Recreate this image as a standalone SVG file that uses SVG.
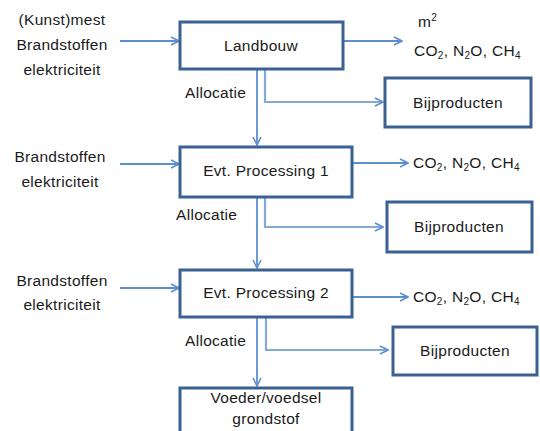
<svg xmlns="http://www.w3.org/2000/svg" width="540" height="431" viewBox="0 0 540 431">
<defs>
<marker id="ah" viewBox="0 0 10 10" refX="9" refY="5" markerWidth="10" markerHeight="10" markerUnits="userSpaceOnUse" orient="auto">
<path d="M1,1 L9,5 L1,9" fill="none" stroke="#5b8fd0" stroke-width="1.6"/>
</marker>
<style>
.box{fill:#fff;stroke:#3b6193;stroke-width:3}
.t{font-family:"Liberation Sans",Arial,sans-serif;font-size:15.5px;letter-spacing:0.3px;fill:#1a1a1a}
.c{text-anchor:middle}
.ln{fill:none;stroke:#5b8fd0;stroke-width:1.8}
.ln2{fill:none;stroke:#86a9d4;stroke-width:2.2}
.sub{font-size:10px}
</style>
</defs>
<rect width="540" height="431" fill="#fff"/>

<g id="connectors">
<path class="ln" d="M120,41 H179" marker-end="url(#ah)"/>
<path class="ln" d="M343,41 H402" marker-end="url(#ah)"/>
<path class="ln" d="M257,70 V145" marker-end="url(#ah)"/>
<path class="ln2" d="M265,70 V102 H383" marker-end="url(#ah)"/>

<path class="ln" d="M120,164 H179" marker-end="url(#ah)"/>
<path class="ln" d="M352,163 H408" marker-end="url(#ah)"/>
<path class="ln" d="M257,197 V268" marker-end="url(#ah)"/>
<path class="ln2" d="M265,197 V227 H383" marker-end="url(#ah)"/>

<path class="ln" d="M120,288 H179" marker-end="url(#ah)"/>
<path class="ln" d="M352,297 H408" marker-end="url(#ah)"/>
<path class="ln" d="M257,318 V386" marker-end="url(#ah)"/>
<path class="ln2" d="M266,318 V350 H388" marker-end="url(#ah)"/>
</g>

<g id="inputs1">
<text class="t c" x="62" y="25">(Kunst)mest</text>
<text class="t c" x="62" y="50">Brandstoffen</text>
<text class="t c" x="62" y="75">elektriciteit</text>
</g>
<g id="landbouw">
<rect class="box" x="180" y="22" width="163" height="47"/>
<text class="t c" x="261" y="51">Landbouw</text>
</g>
<g id="emissions1">
<text class="t" x="418" y="27">m<tspan class="sub" dy="-6">2</tspan></text>
<text class="t" x="414" y="56">CO<tspan class="sub" dy="3">2</tspan><tspan dy="-3">, N</tspan><tspan class="sub" dy="3">2</tspan><tspan dy="-3">O, CH</tspan><tspan class="sub" dy="3">4</tspan></text>
</g>
<g id="alloc1"><text class="t" x="185" y="98">Allocatie</text></g>
<g id="bij1">
<rect class="box" x="385" y="78" width="146" height="49"/>
<text class="t c" x="458" y="108">Bijproducten</text>
</g>

<g id="inputs2">
<text class="t c" x="60" y="162">Brandstoffen</text>
<text class="t c" x="60" y="187">elektriciteit</text>
</g>
<g id="processing1">
<rect class="box" x="180" y="147" width="172" height="50"/>
<text class="t c" x="266" y="176">Evt. Processing 1</text>
</g>
<g id="emissions2">
<text class="t" x="413" y="168">CO<tspan class="sub" dy="3">2</tspan><tspan dy="-3">, N</tspan><tspan class="sub" dy="3">2</tspan><tspan dy="-3">O, CH</tspan><tspan class="sub" dy="3">4</tspan></text>
</g>
<g id="alloc2"><text class="t" x="176" y="220">Allocatie</text></g>
<g id="bij2">
<rect class="box" x="387" y="202" width="145" height="50"/>
<text class="t c" x="459" y="232">Bijproducten</text>
</g>

<g id="inputs3">
<text class="t c" x="62" y="286">Brandstoffen</text>
<text class="t c" x="62" y="310">elektriciteit</text>
</g>
<g id="processing2">
<rect class="box" x="180" y="270" width="172" height="47"/>
<text class="t c" x="266" y="298">Evt. Processing 2</text>
</g>
<g id="emissions3">
<text class="t" x="413" y="302">CO<tspan class="sub" dy="3">2</tspan><tspan dy="-3">, N</tspan><tspan class="sub" dy="3">2</tspan><tspan dy="-3">O, CH</tspan><tspan class="sub" dy="3">4</tspan></text>
</g>
<g id="alloc3"><text class="t" x="185" y="346">Allocatie</text></g>
<g id="bij3">
<rect class="box" x="393" y="327" width="144" height="48"/>
<text class="t c" x="465" y="356">Bijproducten</text>
</g>

<g id="grondstof">
<rect class="box" x="180" y="388" width="172" height="50"/>
<text class="t c" x="266" y="403">Voeder/voedsel</text>
<text class="t c" x="266" y="424">grondstof</text>
</g>
</svg>
